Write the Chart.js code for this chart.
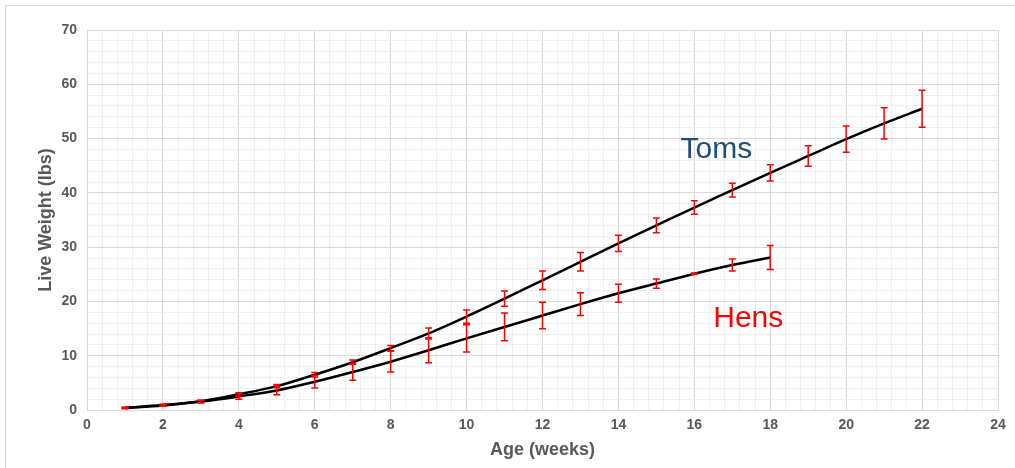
<!DOCTYPE html>
<html>
<head>
<meta charset="utf-8">
<script src="https://cdn.jsdelivr.net/npm/chart.js@4"></script>
<style>
  body { margin: 0; background: #fff; }
  #frame { position: absolute; left: 5px; top: 5px; width: 1020px; height: 480px; border: 1px solid #d9d9d9; }
  #chart { position: absolute; left: 0; top: 0; }
</style>
</head>
<body>
<div id="frame"></div>
<canvas id="chart" width="1015" height="468"></canvas>
<script>
// pesos (lbs) por semana
var semanas = [1,2,3,4,5,6,7,8,9,10,11,12,13,14,15,16,17,18,19,20,21,22]
var toms = [0.4,0.9,1.6,2.9,4.4,6.5,8.8,11.4,14.1,17.2,20.5,23.9,27.3,30.7,34.0,37.3,40.5,43.7,46.8,49.9,52.8,55.5]
var tomsErro = [0.1,0.15,0.2,0.3,0.3,0.4,0.4,0.5,1.0,1.2,1.4,1.7,1.7,1.5,1.35,1.25,1.25,1.5,1.9,2.4,2.9,3.4]

var semanasHens = [1,2,3,4,5,6,7,8,9,10,11,12,13,14,15,16,17,18]
var hens = [0.35,0.85,1.55,2.5,3.6,5.2,7.0,8.9,11.0,13.2,15.3,17.4,19.5,21.5,23.3,25.1,26.7,28.1]
var hensErro = [0.1,0.15,0.25,0.5,0.8,1.15,1.5,1.9,2.3,2.5,2.55,2.45,2.1,1.65,0.85,0.15,1.1,2.2]

var rotulos = [
  {texto: 'Toms', x: 16.58, y: 46.4, cor: '#1f4e79'},
  {texto: 'Hens', x: 17.42, y: 15.2, cor: '#ff0000'}
]

var cinza = '#595959'

function pontos(xs, ys){
  var p = []
  for(let i = 0; i < xs.length; i++){ p.push({x: xs[i], y: ys[i]}) }
  return p
}

// barras de erro + textos
var extras = {
  id: 'extras',
  afterDatasetsDraw: function(chart){
    var ctx = chart.ctx
    var sx = chart.scales.x, sy = chart.scales.y
    var series = [[semanas, toms, tomsErro], [semanasHens, hens, hensErro]]
    ctx.save()
    ctx.strokeStyle = '#ff0000'
    ctx.lineWidth = 1.5
    series.forEach(function(s){
      for(let i = 0; i < s[0].length; i++){
        var px = sx.getPixelForValue(s[0][i])
        var top = sy.getPixelForValue(s[1][i] + s[2][i])
        var bot = sy.getPixelForValue(s[1][i] - s[2][i])
        ctx.beginPath()
        ctx.moveTo(px, top); ctx.lineTo(px, bot)
        ctx.moveTo(px - 3.5, top); ctx.lineTo(px + 3.5, top)
        ctx.moveTo(px - 3.5, bot); ctx.lineTo(px + 3.5, bot)
        ctx.stroke()
      }
    })
    ctx.font = '30px "Liberation Sans", Arial, sans-serif'
    ctx.textAlign = 'center'
    ctx.textBaseline = 'alphabetic'
    rotulos.forEach(function(r){
      ctx.fillStyle = r.cor
      ctx.fillText(r.texto, sx.getPixelForValue(r.x), sy.getPixelForValue(r.y))
    })
    ctx.restore()
  }
}

function ehMultiplo(v, m){
  return Math.abs(v / m - Math.round(v / m)) < 1e-6
}

var fonteTick = {family: '"Liberation Sans", Arial, sans-serif', size: 14, weight: 'bold'}
var fonteTitulo = {family: '"Liberation Sans", Arial, sans-serif', size: 18, weight: 'bold'}

var ctx = document.getElementById('chart').getContext('2d')
var myChart = new Chart(ctx, {
  type: 'line',
  data: {
    datasets: [{
      label: 'Toms',
      data: pontos(semanas, toms),
      borderColor: '#000',
      borderWidth: 2.5,
      pointRadius: 0,
      tension: 0.4,
      cubicInterpolationMode: 'monotone'
    },{
      label: 'Hens',
      data: pontos(semanasHens, hens),
      borderColor: '#000',
      borderWidth: 2.5,
      pointRadius: 0,
      tension: 0.4,
      cubicInterpolationMode: 'monotone'
    }]
  },
  options: {
    responsive: false,
    animation: false,
    devicePixelRatio: 1,
    layout: {padding: {left: 35, top: 30, right: 17, bottom: 7}},
    plugins: {legend: {display: false}, tooltip: {enabled: false}},
    scales: {
      x: {
        type: 'linear',
        min: 0, max: 24,
        afterFit: function(s){ s.height = 51 },
        border: {color: '#d9d9d9'},
        grid: {
          drawTicks: false,
          color: function(c){ return ehMultiplo(c.tick.value, 2) ? '#d9d9d9' : '#efefef' }
        },
        ticks: {
          stepSize: 0.4, autoSkip: false, maxRotation: 0, padding: 7,
          color: cinza, font: fonteTick,
          callback: function(v){ return ehMultiplo(v, 2) ? String(Math.round(v)) : '' }
        },
        title: {display: true, text: 'Age (weeks)', color: cinza, font: fonteTitulo, padding: 0}
      },
      y: {
        min: 0, max: 70,
        afterFit: function(s){ s.width = 52 },
        border: {color: '#d9d9d9'},
        grid: {
          drawTicks: false,
          color: function(c){ return ehMultiplo(c.tick.value, 10) ? '#d9d9d9' : '#efefef' }
        },
        ticks: {
          stepSize: 2, autoSkip: false, padding: 10,
          color: cinza, font: fonteTick,
          callback: function(v){ return ehMultiplo(v, 10) ? String(v) : '' }
        },
        title: {display: true, text: 'Live Weight (lbs)', color: cinza, font: fonteTitulo, padding: 0}
      }
    }
  },
  plugins: [extras]
})
</script>
</body>
</html>
